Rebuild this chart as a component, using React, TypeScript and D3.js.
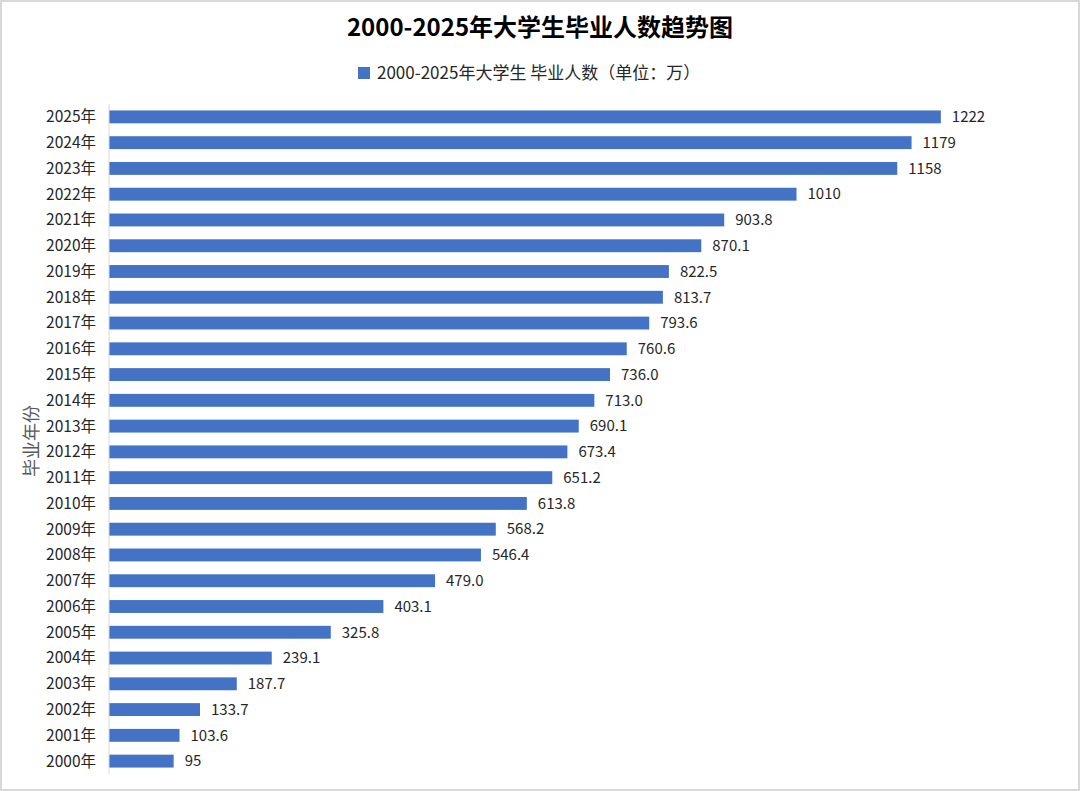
import React, { useEffect } from 'react';
import * as d3 from 'd3';

// years top -> bottom as drawn
const years = [
  '2025年', '2024年', '2023年', '2022年', '2021年', '2020年', '2019年', '2018年', '2017年',
  '2016年', '2015年', '2014年', '2013年', '2012年', '2011年', '2010年', '2009年', '2008年',
  '2007年', '2006年', '2005年', '2004年', '2003年', '2002年', '2001年', '2000年',
];
const graduates = [
  1222, 1179, 1158, 1010, 903.8, 870.1, 822.5, 813.7, 793.6, 760.6, 736.0, 713.0, 690.1,
  673.4, 651.2, 613.8, 568.2, 546.4, 479.0, 403.1, 325.8, 239.1, 187.7, 133.7, 103.6, 95,
];
const valueLabels = [
  '1222', '1179', '1158', '1010', '903.8', '870.1', '822.5', '813.7', '793.6', '760.6', '736.0',
  '713.0', '690.1', '673.4', '651.2', '613.8', '568.2', '546.4', '479.0', '403.1', '325.8',
  '239.1', '187.7', '133.7', '103.6', '95',
];

const title = '2000-2025年大学生毕业人数趋势图';
const legendLabel = '2000-2025年大学生 毕业人数（单位：万）';
const axisTitle = '毕业年份';

const width = 1080;
const height = 791;
const font = '"Noto Sans CJK SC", "Noto Sans", sans-serif';
const barColor = '#4472C4';
const textColor = '#262626';

const App: React.FC = () => {
  useEffect(() => {
    document.body.style.margin = '0';
  }, []);

  const x = d3.scaleLinear().domain([0, 1400]).range([109, 1062]);
  const y = d3.scaleBand<string>()
    .domain(years)
    .range([104, 774])
    .paddingInner(0.5)
    .paddingOuter(0.25);

  return (
    <svg width={width} height={height} viewBox={`0 0 ${width} ${height}`} style={{ display: 'block', fontFamily: font }}>
      <rect x={1} y={1} width={width - 2} height={height - 2} fill="#ffffff" stroke="#d9d9d9" strokeWidth={2} />

      <text x={540} y={36} textAnchor="middle" fontSize={24} fontWeight="bold" fill="#000">{title}</text>

      <rect x={358} y={67} width={12} height={12} fill={barColor} />
      <text x={377} y={79} fontSize={17} fill={textColor}>{legendLabel}</text>

      <text
        transform={`translate(38, 441) rotate(-90)`}
        textAnchor="middle"
        fontSize={18}
        fill="#595959"
      >
        {axisTitle}
      </text>

      {years.map((yr, i) => {
        const yy = y(yr)!;
        const bw = y.bandwidth();
        return (
          <g key={yr}>
            <rect x={x(0)} y={yy} width={x(graduates[i]) - x(0)} height={bw} fill={barColor} />
            <text x={96} y={yy + bw / 2} dy="0.35em" textAnchor="end" fontSize={15.5} fill={textColor}>{yr}</text>
            <text x={x(graduates[i]) + 11} y={yy + bw / 2} dy="0.35em" fontSize={15} fill={textColor}>{valueLabels[i]}</text>
          </g>
        );
      })}

      <line x1={x(0)} x2={x(0)} y1={104} y2={774} stroke="#d9d9d9" strokeWidth={1} />
    </svg>
  );
};

export default App;
